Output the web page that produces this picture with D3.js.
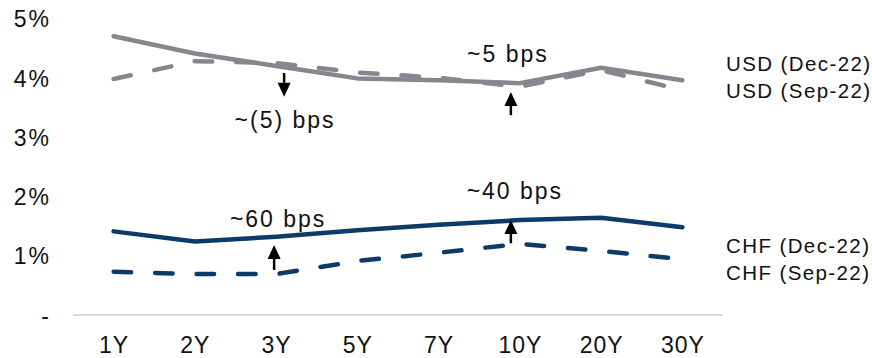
<!DOCTYPE html>
<html>
<head>
<meta charset="utf-8">
<script src="https://cdn.jsdelivr.net/npm/d3@7/dist/d3.min.js"></script>
<style>
  html, body { margin: 0; padding: 0; background: #fff; }
  svg { display: block; font-family: "Liberation Sans", Arial, sans-serif; }
</style>
</head>
<body>
<svg id="chart" width="872" height="358"></svg>
<script>
// Swap curve tenors
const tenors = ["1Y", "2Y", "3Y", "5Y", "7Y", "10Y", "20Y", "30Y"];

// Swap rates in percent
const usdDec22 = [4.70, 4.41, 4.20, 3.99, 3.96, 3.91, 4.17, 3.96];
const usdSep22 = [3.98, 4.28, 4.25, 4.09, 4.00, 3.85, 4.13, 3.79];
const chfDec22 = [1.41, 1.24, 1.32, 1.43, 1.52, 1.60, 1.64, 1.48];
const chfSep22 = [0.73, 0.69, 0.69, 0.91, 1.05, 1.20, 1.08, 0.94];

// Y axis ticks
const yTicks = [0, 1, 2, 3, 4, 5];

// Change annotations: arrows (tenor, from %, to %, nudge px)
const arrowTenor = ["3Y", "10Y", "3Y", "10Y"];
const arrowFrom  = [4.08, 3.37, 0.76, 1.21];
const arrowTo    = [3.68, 3.76, 1.18, 1.60];
const arrowNudge = [8, -9, -2, -9];

// Change annotations: labels (text, tenor, baseline %, nudge px)
const noteText  = ["~(5) bps", "~5 bps", "~60 bps", "~40 bps"];
const noteTenor = ["3Y", "10Y", "3Y", "10Y"];
const noteAt    = [3.15, 4.27, 1.48, 1.95];
const noteNudge = [9, -12, 2, -5];

// Series labels at the right (text, baseline %)
const legendText = ["USD (Dec-22)", "USD (Sep-22)", "CHF (Dec-22)", "CHF (Sep-22)"];
const legendAt   = [4.12, 3.66, 1.04, 0.59];

const USD_COLOR = "#86868f";
const CHF_COLOR = "#0c3b69";

const svg = d3.select("#chart");

const x = d3.scalePoint().domain(tenors).range([73, 723]).padding(0.5);
const y = d3.scaleLinear().domain([0, 5]).range([315, 18.5]);

// Y axis labels (no line, no ticks)
const yAxis = svg.append("g")
  .attr("transform", "translate(51,0)")
  .call(d3.axisLeft(y).tickValues(yTicks).tickSize(0).tickPadding(0)
    .tickFormat(d => d === 0 ? "-" : d + "%"));
yAxis.select(".domain").remove();
yAxis.selectAll("text")
  .attr("font-family", "Liberation Sans, Arial, sans-serif")
  .attr("font-size", 23)
  .attr("letter-spacing", "2px")
  .attr("fill", "#111")
  .attr("dy", "0.36em");

// X axis: light baseline and tenor labels
const xAxis = svg.append("g")
  .attr("transform", "translate(0,315)")
  .call(d3.axisBottom(x).tickSize(0).tickSizeOuter(0).tickPadding(0));
xAxis.select(".domain")
  .attr("stroke", "#d9d9d9")
  .attr("stroke-width", 2)
  .attr("d", "M73,0H723");
xAxis.selectAll("text")
  .attr("font-family", "Liberation Sans, Arial, sans-serif")
  .attr("font-size", 23)
  .attr("letter-spacing", "1px")
  .attr("fill", "#111")
  .attr("dy", null)
  .attr("y", 37.5);

const line = d3.line()
  .x((d, i) => x(tenors[i]))
  .y(d => y(d));

const series = [
  { values: usdSep22, color: USD_COLOR, dashed: true },
  { values: usdDec22, color: USD_COLOR, dashed: false },
  { values: chfSep22, color: CHF_COLOR, dashed: true },
  { values: chfDec22, color: CHF_COLOR, dashed: false }
];

svg.append("g").selectAll("path")
  .data(series)
  .join("path")
  .attr("d", d => line(d.values))
  .attr("fill", "none")
  .attr("stroke", d => d.color)
  .attr("stroke-width", 4.5)
  .attr("stroke-linejoin", "round")
  .attr("stroke-linecap", "round")
  .attr("stroke-dasharray", d => d.dashed ? "17.5,24" : null);

// Arrows
const arrows = svg.append("g");
arrowTenor.forEach((t, i) => {
  const ax = x(t) + arrowNudge[i];
  const y0 = y(arrowFrom[i]);
  const y1 = y(arrowTo[i]);
  const dir = y1 < y0 ? 1 : -1;   // 1 = pointing up
  const head = 14, half = 6.5;
  const neck = y1 + dir * head;
  arrows.append("line")
    .attr("x1", ax).attr("x2", ax)
    .attr("y1", y0).attr("y2", neck)
    .attr("stroke", "#000").attr("stroke-width", 2.5);
  arrows.append("path")
    .attr("d", `M${ax},${y1}L${ax - half},${neck}L${ax + half},${neck}Z`)
    .attr("fill", "#000");
});

// Change labels
svg.append("g").selectAll("text")
  .data(noteText)
  .join("text")
  .attr("x", (d, i) => x(noteTenor[i]) + noteNudge[i])
  .attr("y", (d, i) => y(noteAt[i]))
  .attr("text-anchor", "middle")
  .attr("font-size", 23)
  .attr("letter-spacing", "2px")
  .attr("fill", "#111")
  .text(d => d);

// Series labels
svg.append("g").selectAll("text")
  .data(legendText)
  .join("text")
  .attr("x", 726)
  .attr("y", (d, i) => y(legendAt[i]))
  .attr("font-size", 20.5)
  .attr("letter-spacing", "1.4px")
  .attr("fill", "#111")
  .text(d => d);
</script>
</body>
</html>
